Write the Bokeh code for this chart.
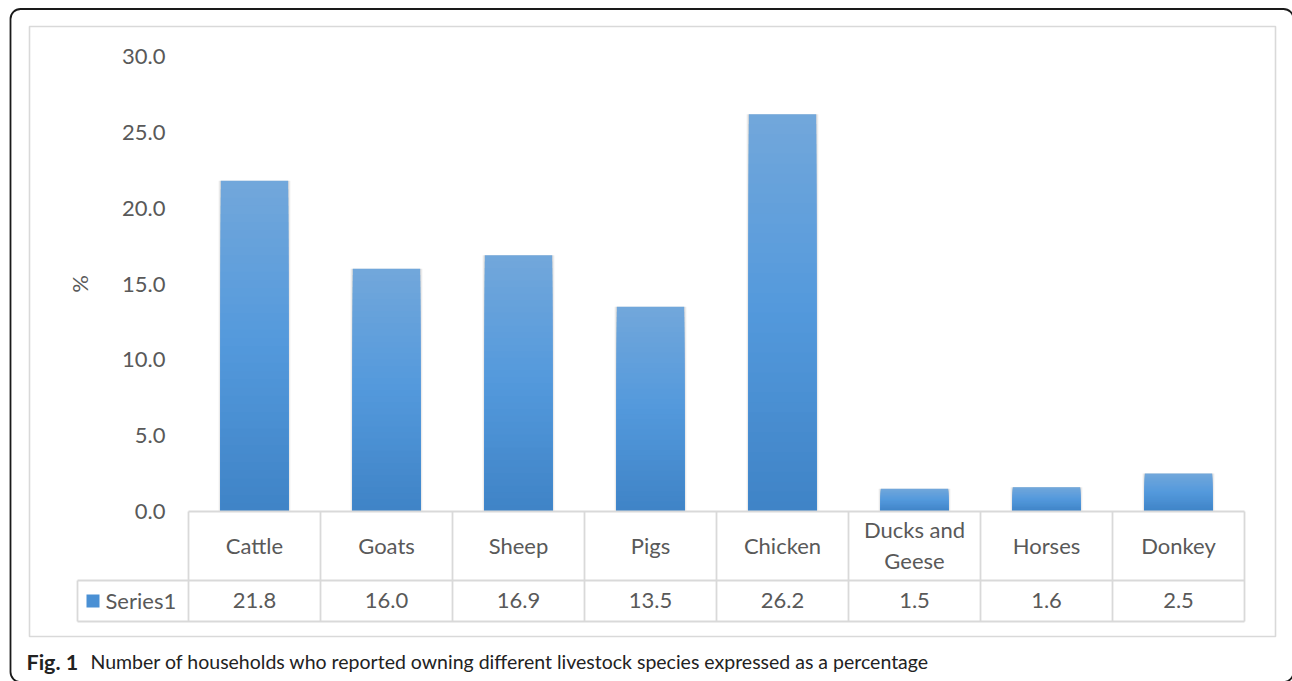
from bokeh.plotting import figure
from bokeh.models import Range1d, FixedTicker, NumeralTickFormatter, BoxAnnotation
from bokeh.core.properties import value
from bokeh.embed import file_html
from bokeh.resources import INLINE

# ---- data ----
categories = ["Cattle", "Goats", "Sheep", "Pigs", "Chicken", "Ducks and Geese", "Horses", "Donkey"]
category_labels = ["Cattle", "Goats", "Sheep", "Pigs", "Chicken", "Ducks and\nGeese", "Horses", "Donkey"]
values = [21.8, 16.0, 16.9, 13.5, 26.2, 1.5, 1.6, 2.5]
series_name = "Series1"
y_ticks = [0, 5, 10, 15, 20, 25, 30]
y_max = 30
caption_bold = "Fig. 1"
caption_text = "Number of households who reported owning different livestock species expressed as a percentage"
y_label = "%"

# ---- layout constants (canvas pixels) ----
W, H = 1292, 681
CAT_LEFT = 188      # canvas x of the first category cell
CELL = 132          # width of one category cell
Y_TOP = 56          # canvas y of y_max
Y_ZERO = 511        # canvas y of 0
PPU = (Y_ZERO - Y_TOP) / y_max


def dx(px):
    return (px - CAT_LEFT) / CELL


def dy(py):
    return (Y_ZERO - py) / PPU


FONT = "Lato"
GREY_TXT = "#595959"
TABLE_LINE = "#d9d9d9"
n = len(categories)
xc = [i + 0.5 for i in range(n)]

p = figure(width=W, height=H, x_range=Range1d(dx(0), dx(W)), y_range=Range1d(dy(H), dy(0)),
           output_backend="svg", toolbar_location=None, x_axis_location=None,
           min_border=0, min_border_left=0, min_border_right=0, min_border_top=0, min_border_bottom=0)
p.outline_line_color = None
p.grid.visible = False
p.background_fill_color = "white"
p.border_fill_color = "white"

# ---- y axis drawn inside the frame ----
ya = p.yaxis[0]
ya.fixed_location = 0
ya.bounds = (0, y_max)
ya.ticker = FixedTicker(ticks=y_ticks)
ya.formatter = NumeralTickFormatter(format="0.0")
ya.axis_line_color = None
ya.major_tick_line_color = None
ya.minor_tick_line_color = None
ya.major_tick_in = 0
ya.major_tick_out = 0
ya.major_label_standoff = 23
ya.major_label_text_font = FONT
ya.major_label_text_font_size = "22px"
ya.major_label_text_color = GREY_TXT
ya.axis_label = y_label
ya.axis_label_text_font = FONT
ya.axis_label_text_font_size = "22px"
ya.axis_label_text_font_style = "normal"
ya.axis_label_text_color = GREY_TXT
ya.axis_label_standoff = 26

# ---- outer frames ----
p.add_layout(BoxAnnotation(left=dx(10), right=dx(1293), top=dy(8.5), bottom=dy(681.5),
                           fill_alpha=0, line_color="#1a1a1a", line_alpha=1, line_width=1.8,
                           border_radius=10, level="underlay"))
p.add_layout(BoxAnnotation(left=dx(29), right=dx(1275), top=dy(26), bottom=dy(636),
                           fill_alpha=0, line_color=TABLE_LINE, line_alpha=1, line_width=1.6,
                           level="underlay"))

# ---- bars: soft shadow + vertical gradient (stacked full-height bars) ----
bar_w = 0.51
p.vbar(x=xc, top=values, bottom=0, width=bar_w + 0.035, fill_color="#000000",
       fill_alpha=0.05, line_color=None)
p.vbar(x=xc, top=values, bottom=0, width=bar_w + 0.018, fill_color="#000000",
       fill_alpha=0.09, line_color=None)

stops = [(0.0, (0x3f, 0x83, 0xc6)), (0.5, (0x53, 0x99, 0xdc)), (1.0, (0x72, 0xa7, 0xdb))]


def grad(t):
    for (t0, c0), (t1, c1) in zip(stops[:-1], stops[1:]):
        if t0 <= t <= t1:
            f = (t - t0) / (t1 - t0)
            c = [round(a + (b - a) * f) for a, b in zip(c0, c1)]
            return "#%02x%02x%02x" % tuple(c)
    return "#%02x%02x%02x" % stops[-1][1]


N = 40
for k in range(N, 0, -1):
    frac = k / N
    p.vbar(x=xc, top=[v * frac for v in values], bottom=0, width=bar_w,
           fill_color=grad((k - 0.5) / N), line_color=None)

# ---- data table ----
row1_bottom = dy(580)
row2_bottom = dy(621)
key_left = dx(77)
p.segment(x0=[0, key_left, key_left], x1=[n, n, n], y0=[0, row1_bottom, row2_bottom],
          y1=[0, row1_bottom, row2_bottom], line_color=TABLE_LINE, line_width=1.8)
p.segment(x0=list(range(n + 1)) + [key_left], x1=list(range(n + 1)) + [key_left],
          y0=[0] * (n + 1) + [row1_bottom], y1=[row2_bottom] * (n + 2),
          line_color=TABLE_LINE, line_width=1.8)

p.text(x=xc, y=[dy(544.5)] * n, text=category_labels, text_align="center", text_baseline="middle",
       text_font=value(FONT), text_font_size="22px", text_color=GREY_TXT, text_line_height=1.17)
p.text(x=xc, y=[dy(600)] * n, text=[f"{v:.1f}" for v in values], text_align="center",
       text_baseline="middle", text_font=value(FONT), text_font_size="22px", text_color=GREY_TXT)

# legend key in table
p.scatter(x=[dx(92.5)], y=[dy(600.5)], marker="square", size=13, fill_color="#4a90d4", line_color=None)
p.text(x=[dx(105)], y=[dy(600)], text=[series_name], text_align="left", text_baseline="middle",
       text_font=value(FONT), text_font_size="22px", text_color=GREY_TXT)

# ---- caption ----
p.text(x=[dx(26)], y=[dy(661)], text=[caption_bold], text_align="left", text_baseline="middle",
       text_font=value(FONT), text_font_style="bold", text_font_size="21.5px", text_color="#222222")
p.text(x=[dx(90)], y=[dy(661)], text=[caption_text], text_align="left", text_baseline="middle",
       text_font=value(FONT), text_font_size="19.5px", text_color="#222222")

open("out.html", "w").write(file_html(p, INLINE))
